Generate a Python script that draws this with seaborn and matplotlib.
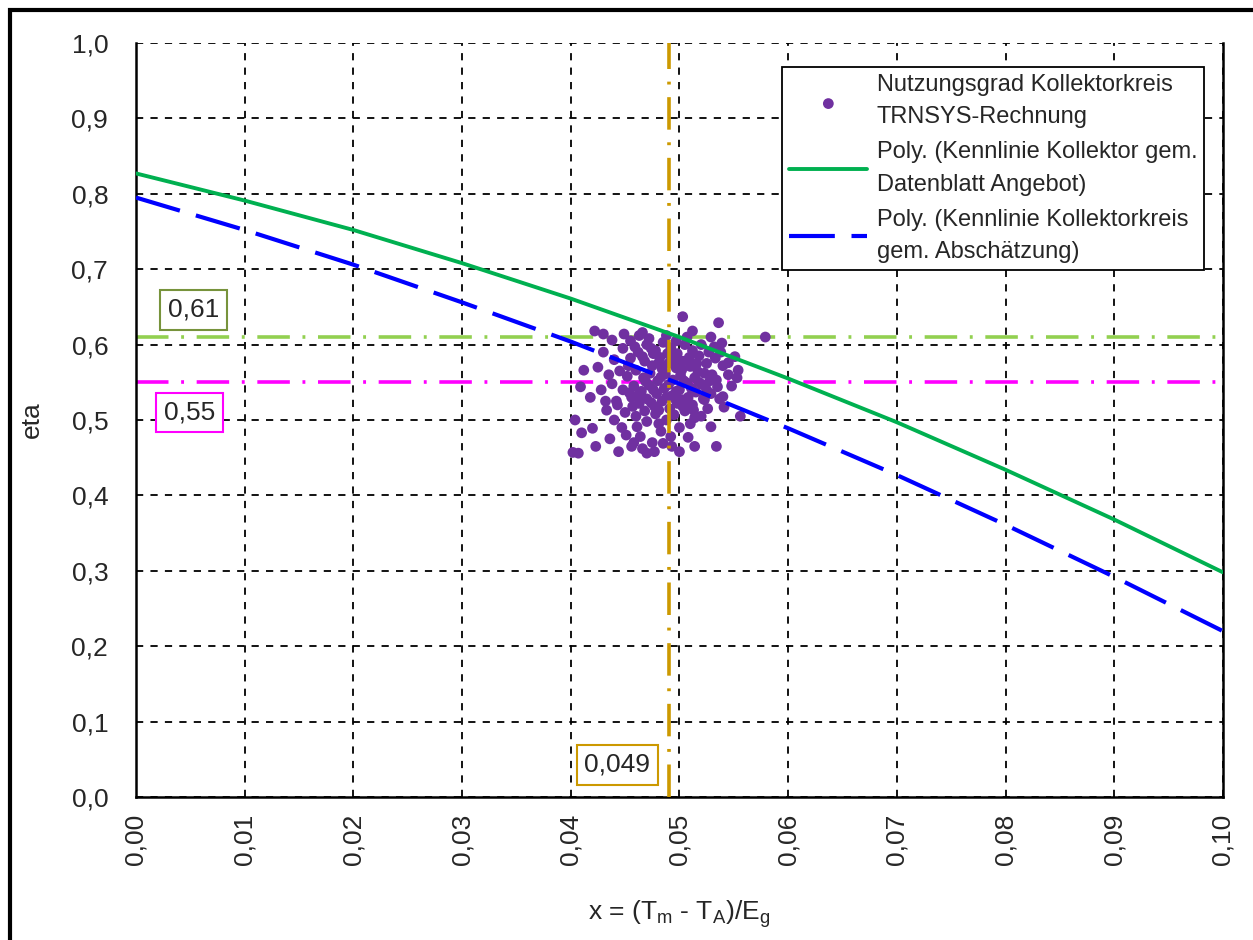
import matplotlib
matplotlib.use("Agg")
import matplotlib.pyplot as plt
import matplotlib.patches as mpatches
import matplotlib.ticker as mticker
import pandas as pd
import seaborn as sns

kennlinie_x = [0.00, 0.01, 0.02, 0.03, 0.04, 0.05, 0.06, 0.07, 0.08, 0.09, 0.10]
kollektor_datenblatt = [0.827, 0.791, 0.752, 0.708, 0.661, 0.610, 0.555, 0.497, 0.434, 0.368, 0.298]
kollektorkreis_schaetzung = [0.795, 0.752, 0.706, 0.656, 0.604, 0.548, 0.489, 0.427, 0.361, 0.292, 0.220]

# Nutzungsgrad Kollektorkreis (TRNSYS), Punkte (x, eta)
nutzungsgrad_pts = [
    (0.0470, 0.600), (0.0478, 0.592), (0.0485, 0.603), (0.0492, 0.596), (0.0498, 0.588),
    (0.0505, 0.600), (0.0512, 0.592), (0.0518, 0.585), (0.0462, 0.590), (0.0455, 0.582),
    (0.0468, 0.578), (0.0475, 0.572), (0.0482, 0.583), (0.0490, 0.575), (0.0497, 0.569),
    (0.0503, 0.578), (0.0510, 0.571), (0.0517, 0.564), (0.0525, 0.575), (0.0530, 0.560),
    (0.0460, 0.566), (0.0452, 0.558), (0.0467, 0.556), (0.0473, 0.562), (0.0480, 0.552),
    (0.0487, 0.561), (0.0494, 0.553), (0.0501, 0.559), (0.0507, 0.549), (0.0514, 0.556),
    (0.0521, 0.547), (0.0528, 0.552), (0.0535, 0.544), (0.0458, 0.545), (0.0465, 0.538),
    (0.0472, 0.546), (0.0479, 0.535), (0.0486, 0.542), (0.0493, 0.532), (0.0500, 0.540),
    (0.0508, 0.530), (0.0515, 0.537), (0.0522, 0.528), (0.0529, 0.535), (0.0448, 0.540),
    (0.0456, 0.530), (0.0463, 0.522), (0.0470, 0.528), (0.0477, 0.518), (0.0484, 0.525),
    (0.0491, 0.515), (0.0498, 0.522), (0.0505, 0.512), (0.0512, 0.520), (0.0450, 0.510),
    (0.0460, 0.505), (0.0470, 0.498), (0.0478, 0.508), (0.0488, 0.500), (0.0495, 0.507),
    (0.0442, 0.525), (0.0438, 0.548), (0.0445, 0.565), (0.0440, 0.580), (0.0448, 0.595),
    (0.0455, 0.605), (0.0463, 0.612), (0.0488, 0.612), (0.0497, 0.605), (0.0507, 0.610),
    (0.0520, 0.600), (0.0527, 0.590), (0.0533, 0.582), (0.0540, 0.572), (0.0538, 0.590),
    (0.0545, 0.560), (0.0548, 0.545), (0.0537, 0.528),
    (0.0503, 0.637), (0.0536, 0.629), (0.0512, 0.618), (0.0529, 0.610), (0.0579, 0.610),
    (0.0539, 0.602), (0.0422, 0.618), (0.0430, 0.614), (0.0438, 0.606), (0.0449, 0.614),
    (0.0466, 0.616), (0.0412, 0.566), (0.0409, 0.544), (0.0404, 0.500), (0.0410, 0.483),
    (0.0423, 0.465), (0.0402, 0.457), (0.0407, 0.456), (0.0433, 0.513), (0.0443, 0.520),
    (0.0420, 0.489), (0.0454, 0.536), (0.0461, 0.491), (0.0451, 0.480), (0.0456, 0.465),
    (0.0464, 0.478), (0.0470, 0.456), (0.0477, 0.458), (0.0485, 0.469), (0.0500, 0.458),
    (0.0508, 0.477), (0.0514, 0.465), (0.0534, 0.465), (0.0529, 0.491), (0.0514, 0.503),
    (0.0556, 0.505), (0.0541, 0.517), (0.0540, 0.531), (0.0553, 0.556), (0.0554, 0.566),
    (0.0551, 0.584), (0.0545, 0.576), (0.0534, 0.553), (0.0523, 0.527), (0.0513, 0.513),
    (0.0503, 0.518), (0.0430, 0.590), (0.0425, 0.570), (0.0435, 0.560), (0.0428, 0.540),
    (0.0432, 0.525), (0.0418, 0.530), (0.0440, 0.500), (0.0436, 0.475), (0.0447, 0.490),
    (0.0458, 0.470), (0.0466, 0.462), (0.0475, 0.470), (0.0483, 0.485), (0.0492, 0.478),
    (0.0500, 0.490), (0.0510, 0.495), (0.0520, 0.505), (0.0526, 0.515), (0.0493, 0.465),
    (0.0444, 0.458), (0.0481, 0.495), (0.0496, 0.528), (0.0476, 0.588), (0.0484, 0.568),
    (0.0466, 0.584), (0.0474, 0.595), (0.0481, 0.576), (0.0489, 0.588), (0.0495, 0.580),
    (0.0502, 0.566), (0.0509, 0.583), (0.0516, 0.575), (0.0523, 0.562), (0.0469, 0.551),
    (0.0476, 0.540), (0.0483, 0.557), (0.0490, 0.547), (0.0497, 0.538), (0.0504, 0.552),
    (0.0511, 0.542), (0.0518, 0.550), (0.0525, 0.540), (0.0462, 0.533), (0.0474, 0.523),
    (0.0481, 0.513), (0.0488, 0.530), (0.0502, 0.527), (0.0509, 0.518), (0.0468, 0.512),
    (0.0457, 0.518), (0.0453, 0.572), (0.0459, 0.597), (0.0472, 0.608), (0.0532, 0.597),
]

eta_datenblatt = 0.61
eta_schaetzung = 0.55
x_betrieb = 0.049

x_ticks = [0.00, 0.01, 0.02, 0.03, 0.04, 0.05, 0.06, 0.07, 0.08, 0.09, 0.10]
y_ticks = [0.0, 0.1, 0.2, 0.3, 0.4, 0.5, 0.6, 0.7, 0.8, 0.9, 1.0]

df_pts = pd.DataFrame(nutzungsgrad_pts, columns=["x", "eta"])
df_kl = pd.DataFrame({"x": kennlinie_x,
                      "datenblatt": kollektor_datenblatt,
                      "schaetzung": kollektorkreis_schaetzung})

sns.set_style("white")
plt.rcParams["font.family"] = ["Liberation Sans", "DejaVu Sans"]
plt.rcParams["mathtext.default"] = "regular"

fig = plt.figure(figsize=(12.53, 9.40), dpi=100)
ax = fig.add_axes([0.1085, 0.1521, 0.8675, 0.8022])

# Gitter
for xv in x_ticks:
    ax.axvline(xv, color="black", lw=1.3, ls=(0, (4, 4)), zorder=0)
for yv in y_ticks:
    ax.axhline(yv, color="black", lw=1.3, ls=(0, (4, 4)), zorder=0)

# Hilfslinien
ax.axhline(eta_datenblatt, color="#92D050", lw=2.6, ls=(0, (9, 3.5, 0.8, 3.5)), zorder=2)
ax.axhline(eta_schaetzung, color="#FF00FF", lw=2.6, ls=(0, (9, 3.5, 0.8, 3.5)), zorder=2)
ax.axvline(x_betrieb, color="#CC9900", lw=2.6, ls=(0, (9, 3.5, 0.8, 3.5)), zorder=4)

sns.scatterplot(data=df_pts, x="x", y="eta", ax=ax, color="#7030A0", s=60,
                edgecolor="none", zorder=3,
                label="Nutzungsgrad Kollektorkreis\nTRNSYS-Rechnung")
sns.lineplot(data=df_kl, x="x", y="datenblatt", ax=ax, color="#00B050", lw=2.8,
             zorder=5, label="Poly. (Kennlinie Kollektor gem.\nDatenblatt Angebot)")
sns.lineplot(data=df_kl, x="x", y="schaetzung", ax=ax, color="#0000FF", lw=3.0,
             linestyle=(0, (11, 4)), zorder=5,
             label="Poly. (Kennlinie Kollektorkreis\ngem. Abschätzung)")

# Beschriftungsboxen
box = dict(boxstyle="square,pad=0.3", fc="white", lw=1.5)
ax.text(0.0053, 0.646, "0,61", fontsize=19, ha="center", va="center", zorder=6,
        bbox=dict(box, ec="#77933C"))
ax.text(0.0049, 0.510, "0,55", fontsize=19, ha="center", va="center", zorder=6,
        bbox=dict(box, ec="#FF00FF"))
ax.text(0.0443, 0.043, "0,049", fontsize=19, ha="center", va="center", zorder=6,
        bbox=dict(box, ec="#CC9900"))

ax.set_xlim(0, 0.10)
ax.set_ylim(0, 1.0)
ax.set_xticks(x_ticks)
ax.set_yticks(y_ticks)
ax.xaxis.set_major_formatter(mticker.FuncFormatter(lambda v, p: f"{v:.2f}".replace(".", ",")))
ax.yaxis.set_major_formatter(mticker.FuncFormatter(lambda v, p: f"{v:.1f}".replace(".", ",")))
ax.tick_params(axis="x", labelrotation=90, direction="inout", length=10, width=1.3,
               labelsize=19, pad=7)
ax.tick_params(axis="y", direction="inout", length=10, width=1.3, labelsize=19, pad=15)

ax.set_xlabel("x = (T$_m$ - T$_A$)/E$_g$", fontsize=19, labelpad=24)
ax.set_ylabel("eta", fontsize=19, labelpad=20)

for side in ["left", "bottom", "right"]:
    ax.spines[side].set_color("black")
    ax.spines[side].set_linewidth(1.8)
ax.spines["top"].set_visible(False)

leg = ax.legend(loc="upper right", bbox_to_anchor=(0.983, 0.968), borderaxespad=0,
                fontsize=17, frameon=True, fancybox=False, framealpha=1,
                edgecolor="black", handlelength=3.3, labelspacing=0.55,
                handletextpad=0.4, borderpad=0.3)
leg.get_frame().set_linewidth(1.3)
for t in leg.get_texts():
    t.set_linespacing(1.6)

# Rahmen um das Diagramm
fig.patches.append(mpatches.Rectangle((0.008, -0.05), 1.1, 1.039, transform=fig.transFigure,
                                      fill=False, ec="black", lw=3))

fig.savefig("out.png", dpi=100)
